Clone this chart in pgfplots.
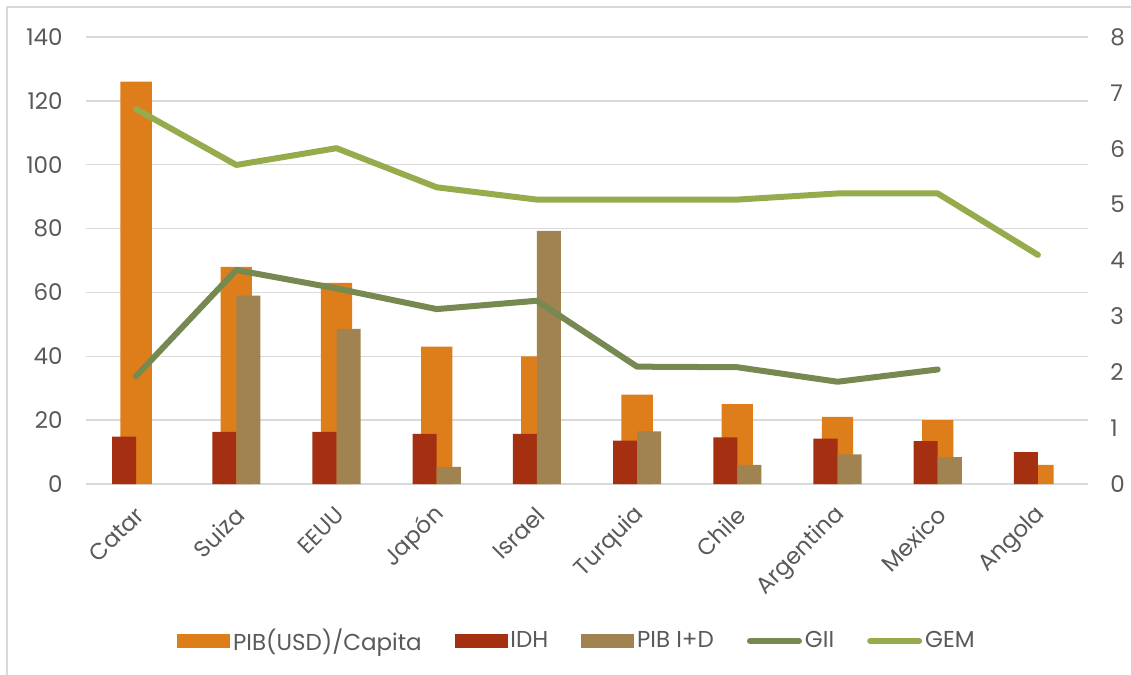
\documentclass[border=0pt]{standalone}
\usepackage{pgfplots}
\pgfplotsset{compat=1.18}
\usepackage{fontspec}
\setmainfont{Poppins}
\definecolor{cPIB}{RGB}{222,126,26}
\definecolor{cIDH}{RGB}{165,47,17}
\definecolor{cID}{RGB}{160,131,80}
\definecolor{cGII}{RGB}{118,137,80}
\definecolor{cGEM}{RGB}{150,172,76}
\definecolor{ctext}{RGB}{89,89,89}
\definecolor{cgrid}{RGB}{217,217,217}
\pgfplotsset{
  linelegend/.style={legend image code/.code={\draw[##1] (1.5pt,0pt) -- (26pt,0pt);}},
}
\begin{document}
\begin{tikzpicture}[font=\fontsize{11.5}{13.5}\selectfont]
\path[use as bounding box] (-43pt,-95.5pt) rectangle (522.5pt,242pt);
\draw[cgrid, line width=0.7pt] (-39.5pt,-120pt) -- (-39.5pt,238.5pt) -- (560pt,238.5pt);
\begin{axis}[
  scale only axis, width=501pt, height=223.5pt,
  xmin=-0.5, xmax=9.5, ymin=0, ymax=140,
  xtick={0,...,9},
  xticklabels={Catar,Suiza,EEUU,Japón,Israel,Turquia,Chile,Argentina,Mexico,Angola},
  ytick={0,20,...,140},
  /pgf/number format/assume math mode=true,
  ymajorgrids, grid style={cgrid, line width=0.7pt},
  axis line style={draw=none},
  major tick length=0pt,
  tick label style={text=ctext},
  yticklabel style={inner sep=0pt, xshift=-11.5pt},
  xticklabel style={xshift=2pt, yshift=-13.5pt, rotate=45, anchor=east, inner sep=0pt},
]
\addplot[ybar, bar width=0.313, bar shift=0, fill=cPIB, draw=none]
  coordinates {(0,126) (1,68) (2,63) (3,43) (4,40) (5,28) (6,25) (7,21) (8,20) (9,6)};
\addplot[ybar, bar width=0.24, bar shift=-0.12, fill=cIDH, draw=none]
  coordinates {(0,14.8) (1,16.3) (2,16.3) (3,15.7) (4,15.7) (5,13.6) (6,14.6) (7,14.2) (8,13.4) (9,10.0)};
\addplot[ybar, bar width=0.24, bar shift=0.12, fill=cID, draw=none]
  coordinates {(1,59) (2,48.6) (3,5.4) (4,79.3) (5,16.5) (6,6.0) (7,9.3) (8,8.4)};
\end{axis}
\begin{axis}[
  scale only axis, width=501pt, height=223.5pt,
  xmin=-0.5, xmax=9.5, ymin=0, ymax=8,
  axis x line=none,
  axis y line*=right, y axis line style={draw=none},
  ytick={0,...,8}, major tick length=0pt,
  /pgf/number format/assume math mode=true,
  yticklabel style={inner sep=0pt, xshift=11pt, text=ctext},
  legend columns=5,
  legend style={draw=none, fill=none, at={(0.4905,-0.3512)}, anchor=center,
    text=ctext, nodes={inner sep=1.5pt},
    /tikz/every even column/.append style={column sep=15pt}},
]
\addlegendimage{legend image code/.code={\fill[cPIB] (0pt,-3.25pt) rectangle (26pt,3.25pt);}}
\addlegendentry{PIB(USD)/Capita}
\addlegendimage{legend image code/.code={\fill[cIDH] (0pt,-3.25pt) rectangle (26pt,3.25pt);}}
\addlegendentry{IDH}
\addlegendimage{legend image code/.code={\fill[cID] (0pt,-3.25pt) rectangle (26pt,3.25pt);}}
\addlegendentry{PIB I+D}
\addplot[cGII, line width=3pt, line cap=round, line join=round, linelegend]
  coordinates {(0,1.93) (1,3.83) (2,3.50) (3,3.13) (4,3.28) (5,2.10) (6,2.09) (7,1.83) (8,2.05)};
\addlegendentry{GII}
\addplot[cGEM, line width=3pt, line cap=round, line join=round, linelegend]
  coordinates {(0,6.71) (1,5.71) (2,6.01) (3,5.31) (4,5.09) (5,5.09) (6,5.09) (7,5.20) (8,5.20) (9,4.10)};
\addlegendentry{GEM}
\end{axis}
\end{tikzpicture}
\end{document}
